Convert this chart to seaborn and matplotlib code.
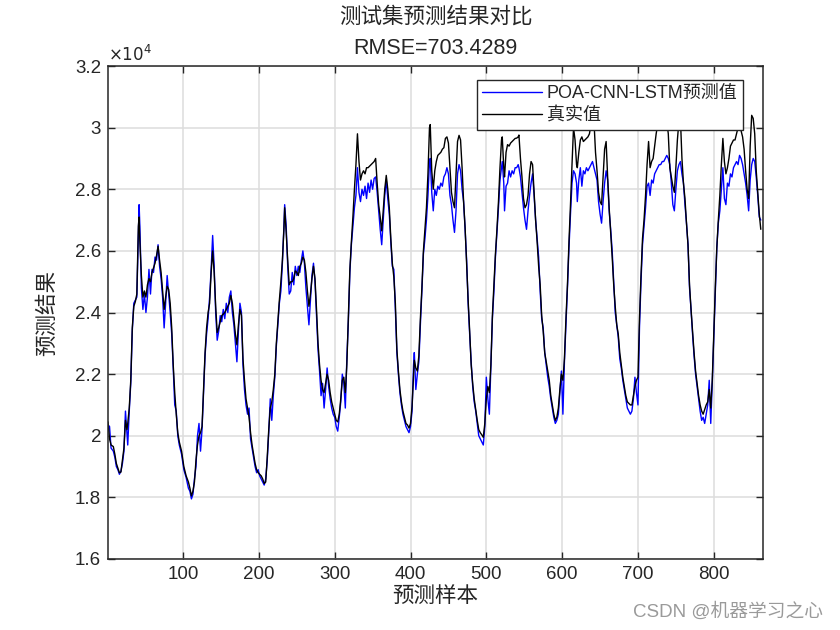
import numpy as np
import pandas as pd
import matplotlib
matplotlib.use('Agg')
import matplotlib.pyplot as plt
import seaborn as sns
from matplotlib.ticker import FuncFormatter, MultipleLocator

# sample index (test set) and values
sample_idx = [
    1, 3, 5, 8, 10, 12, 14, 16, 18, 20, 22, 24, 26, 27, 29, 31, 33, 35, 37, 39,
    41, 42, 43, 45, 47, 49, 51, 53, 55, 57, 59, 61, 63, 65, 67, 69, 71, 73, 75, 77,
    79, 81, 83, 85, 87, 89, 91, 93, 95, 98, 101, 104, 107, 109, 111, 113, 115, 117, 119, 121,
    123, 125, 127, 129, 131, 133, 135, 137, 139, 141, 143, 145, 147, 149, 151, 153, 155, 157, 159, 161,
    163, 165, 167, 169, 171, 173, 175, 177, 179, 181, 183, 185, 187, 189, 191, 193, 195, 197, 199, 201,
    203, 205, 207, 209, 211, 213, 215, 217, 219, 221, 223, 225, 227, 229, 231, 233, 234, 236, 238, 240,
    242, 244, 246, 248, 250, 252, 254, 256, 258, 260, 262, 264, 266, 268, 270, 272, 274, 276, 278, 280,
    282, 284, 286, 288, 290, 292, 294, 296, 298, 300, 302, 304, 306, 308, 310, 312, 314, 316, 318, 320,
    322, 324, 326, 328, 330, 332, 334, 336, 338, 340, 342, 344, 346, 348, 350, 352, 354, 356, 358, 360,
    362, 364, 366, 368, 370, 372, 374, 376, 378, 380, 382, 384, 386, 388, 390, 392, 394, 396, 398, 400,
    402, 404, 405, 407, 409, 411, 413, 415, 417, 419, 421, 423, 425, 426, 428, 430, 432, 434, 436, 438,
    440, 442, 444, 446, 448, 450, 452, 454, 456, 458, 460, 462, 464, 466, 468, 470, 472, 474, 476, 478,
    480, 482, 484, 486, 488, 490, 492, 494, 496, 498, 500, 502, 504, 506, 508, 510, 512, 514, 516, 518,
    520, 521, 523, 524, 526, 528, 530, 532, 534, 536, 538, 540, 542, 543, 545, 547, 549, 551, 553, 555,
    557, 559, 561, 563, 565, 567, 569, 571, 573, 575, 577, 579, 581, 583, 585, 587, 589, 591, 593, 595,
    597, 599, 601, 603, 605, 607, 609, 611, 613, 615, 617, 619, 620, 622, 624, 626, 628, 630, 632, 634,
    636, 638, 640, 642, 644, 646, 648, 650, 652, 654, 656, 658, 660, 662, 664, 666, 668, 670, 672, 674,
    676, 678, 680, 682, 684, 686, 688, 690, 692, 694, 696, 698, 700, 702, 704, 706, 708, 710, 712, 714,
    716, 718, 720, 722, 724, 726, 728, 730, 732, 734, 736, 738, 740, 742, 744, 746, 748, 750, 752, 754,
    756, 758, 760, 762, 764, 766, 768, 770, 772, 774, 776, 778, 780, 782, 784, 786, 788, 790, 792, 794,
    796, 798, 800, 802, 804, 806, 808, 810, 812, 814, 816, 818, 820, 822, 824, 826, 828, 830, 832, 834,
    836, 838, 840, 842, 844, 846, 848, 850, 852, 854, 856, 858, 860, 862,
]

true_vals = [
    20450, 19900, 19700, 19650, 19400, 19100, 18950, 18800, 18820, 19200, 19600, 20500, 20200, 20400, 20900, 21800, 23500, 24200, 24350, 24600,
    26800, 27100, 26300, 25200, 24500, 24700, 24500, 24900, 25100, 25000, 25300, 25450, 25600, 25850, 26150, 25700, 25300, 24700, 24100, 24500,
    24850, 24750, 24300, 23500, 22300, 21400, 20700, 20100, 19800, 19500, 19000, 18700, 18500, 18300, 18050, 18200, 18500, 19200, 19700, 20000,
    20100, 20300, 21500, 22700, 23500, 24000, 24300, 25300, 26000, 25300, 24200, 23350, 23500, 23700, 23900, 23950, 24000, 24100, 24200, 24300,
    24550, 24300, 23800, 23300, 22950, 23600, 24100, 23900, 22500, 21800, 21200, 20900, 20600, 20100, 19700, 19400, 19100, 18900, 18800, 18750,
    18700, 18600, 18450, 18500, 19300, 20200, 20900, 21100, 21500, 22000, 23000, 23700, 24400, 25000, 25700, 26700, 27400, 26600, 25700, 24900,
    25000, 25000, 25100, 25350, 25300, 25200, 25500, 25600, 25800, 25700, 25300, 24700, 24200, 24600, 25100, 25500, 25100, 24100, 23000, 22300,
    21800, 21500, 21400, 21700, 22000, 21800, 21400, 21100, 20900, 20700, 20500, 20450, 20700, 21200, 21800, 21900, 21400, 22300, 23800, 25400,
    26300, 27100, 28000, 28800, 29800, 28900, 28300, 28500, 28600, 28500, 28700, 28700, 28750, 28800, 28850, 28900, 29000, 28200, 27500, 27100,
    26650, 27300, 28000, 28450, 28000, 27400, 26400, 25600, 25150, 24300, 22800, 22100, 21500, 21100, 20800, 20600, 20400, 20350, 20250, 20400,
    20950, 22000, 22450, 22200, 22100, 22600, 23800, 24800, 26000, 26700, 27400, 28500, 30000, 30100, 28600, 28000, 28600, 28900, 29100, 29150,
    29200, 29300, 29350, 29650, 29700, 29500, 28700, 27900, 27600, 27400, 28500, 29550, 29750, 29600, 28700, 27600, 26750, 25600, 24400, 23400,
    22300, 21700, 21200, 20850, 20500, 20200, 20100, 20030, 19950, 20400, 21200, 21600, 21400, 22300, 23900, 24900, 25900, 26700, 27600, 28700,
    29600, 29700, 28700, 28400, 29200, 29450, 29400, 29500, 29550, 29600, 29650, 29660, 29700, 29760, 29000, 28400, 27700, 27400, 27500, 27800,
    28500, 28900, 28800, 27900, 27000, 26300, 25500, 24900, 23900, 23400, 22700, 22400, 22100, 21800, 21300, 21000, 20700, 20500, 20600, 20900,
    21500, 22000, 21800, 22500, 23800, 24900, 26300, 27500, 28800, 30000, 29600, 28800, 28700, 29200, 29600, 29700, 29550, 29600, 29650, 29700,
    29800, 30100, 30300, 30200, 29200, 28600, 27900, 27600, 27500, 28400, 29300, 29550, 28400, 27400, 26600, 25800, 24900, 24200, 23600, 23300,
    22700, 22300, 21900, 21600, 21300, 21100, 21050, 21000, 21000, 21300, 21600, 21800, 21900, 23800, 25200, 26400, 27000, 27800, 28800, 29550,
    28700, 28900, 29000, 29400, 29800, 30100, 30300, 30200, 30100, 30000, 30100, 30200, 29800, 28700, 28400, 28100, 27900, 28700, 29600, 30200,
    30300, 29000, 28200, 27700, 26900, 26200, 24900, 24100, 23400, 22700, 22100, 21700, 21300, 21000, 20800, 20700, 20850, 21000, 21100, 21500,
    20900, 21800, 23300, 24800, 26100, 27000, 27800, 28800, 29650, 28900, 28500, 28700, 29000, 29400, 29500, 29600, 29600, 29800, 30000, 30000,
    29900, 29700, 29300, 28600, 28000, 27700, 29400, 30400, 30300, 29800, 28600, 27900, 27200, 26700,
]

pred_vals = [
    20350, 20300, 19600, 19500, 19300, 19000, 18900, 18750, 18850, 19100, 19500, 20800, 20100, 19700, 20800, 21700, 23400, 24300, 24400, 24500,
    26500, 27500, 26800, 24800, 24100, 24600, 24000, 24500, 25400, 24600, 25400, 25300, 25800, 25700, 26200, 25500, 25100, 24500, 23500, 24300,
    25200, 24600, 24000, 23300, 22200, 21000, 20800, 20000, 19700, 19400, 18900, 18650, 18300, 18200, 17950, 18100, 18600, 19000, 20000, 20400,
    19500, 20200, 21400, 22600, 23300, 23800, 24500, 25400, 26500, 25500, 24000, 23100, 23400, 23900, 23700, 24100, 23800, 24300, 24000, 24500,
    24700, 24000, 23600, 23000, 22400, 23400, 24300, 24000, 22300, 21500, 21000, 20700, 20900, 19900, 19600, 19300, 19000, 18800, 18900, 18700,
    18600, 18500, 18400, 18600, 19200, 20100, 21200, 20500, 21300, 21900, 22900, 23600, 24300, 24700, 25600, 26800, 27500, 26800, 25500, 24600,
    24700, 25300, 24900, 25500, 25200, 25500, 25300, 25700, 26000, 25600, 24800, 24200, 23600, 24400, 25200, 25600, 25000, 23900, 22800, 22100,
    21300, 21700, 20900, 21500, 22200, 21600, 21200, 20900, 20700, 20600, 20300, 20150, 20600, 21100, 22000, 21700, 20900, 22500, 23700, 25300,
    26200, 26800, 27400, 27800, 28700, 27900, 27600, 28000, 27800, 28100, 27700, 28200, 27900, 28300, 28000, 28350, 28400, 27900, 27300, 26700,
    26200, 27000, 27800, 28300, 27700, 27200, 26300, 25500, 25400, 24100, 22700, 22000, 21400, 21000, 20700, 20500, 20300, 20200, 20100, 20300,
    20800, 22300, 22700, 21500, 22000, 22400, 23600, 24700, 25900, 26400, 27000, 27800, 28900, 29000, 27900, 27300, 28000, 27800, 28100, 28000,
    28200, 28100, 28400, 28500, 28700, 28500, 27800, 27500, 27000, 26600, 27300, 28500, 28800, 28600, 28000, 27600, 26700, 25700, 24300, 23300,
    22400, 21600, 21100, 20800, 20400, 20000, 19900, 19800, 19700, 20300, 21900, 21200, 20700, 22200, 23800, 24700, 25800, 26600, 27400, 28300,
    28700, 28900, 28200, 27300, 28100, 28200, 28600, 28400, 28600, 28500, 28700, 28700, 28800, 28700, 28400, 27900, 27400, 27000, 26700, 27300,
    27800, 28200, 28500, 27800, 27000, 26400, 25800, 24700, 23800, 23500, 22700, 22300, 21900, 21600, 21200, 20900, 20600, 20400, 20500, 20700,
    21400, 22100, 20700, 22400, 23600, 24800, 26100, 27200, 28200, 28600, 28500, 28200, 27600, 28300, 28700, 28100, 28600, 28500, 28700, 28600,
    28700, 28800, 28900, 28700, 28500, 28300, 27600, 27200, 26900, 27600, 28200, 28600, 28300, 27300, 26700, 26000, 25000, 24000, 23600, 23200,
    22500, 22200, 21800, 21500, 21200, 20900, 20800, 20700, 20800, 21200, 21900, 21400, 21000, 23500, 25000, 26200, 26800, 27400, 28100, 28200,
    27800, 28300, 28200, 28500, 28600, 28700, 28800, 28800, 28900, 28900, 29000, 29100, 29000, 28800, 28200, 27500, 27300, 28000, 28600, 28800,
    28900, 28500, 28200, 27500, 26900, 26200, 24800, 24100, 23300, 22600, 22000, 21600, 21200, 20800, 20500, 20600, 20400, 20700, 21000, 21800,
    20400, 21700, 23200, 24700, 26100, 26900, 27300, 28000, 28700, 27700, 27500, 28200, 28100, 28500, 28400, 28700, 28800, 28900, 28800, 29100,
    29000, 28800, 28500, 28200, 27800, 27300, 28300, 28800, 29000, 28900, 28400, 27800, 27100, 27000,
]

rmse_text = 'RMSE=703.4289'
cjk = ['Liberation Sans', 'Noto Sans CJK SC', 'DejaVu Sans']

sns.set_style('ticks')
plt.rcParams['font.family'] = cjk
plt.rcParams['axes.unicode_minus'] = False

df = pd.DataFrame({'sample': sample_idx, 'true': true_vals, 'pred': pred_vals})

fig = plt.figure(figsize=(8.4, 6.3), dpi=100)
ax = fig.add_axes([0.1286, 0.1127, 0.7798, 0.7825])

sns.lineplot(data=df, x='sample', y='pred', color='#0000ff', lw=1.0,
             label='POA-CNN-LSTM预测值', ax=ax, estimator=None)
sns.lineplot(data=df, x='sample', y='true', color='black', lw=1.0,
             label='真实值', ax=ax, estimator=None)

ax.set_xlim(1, 865)
ax.set_ylim(16000, 32000)
ax.yaxis.set_major_locator(MultipleLocator(2000))
ax.yaxis.set_major_formatter(FuncFormatter(lambda v, p: '%g' % round(v / 1e4, 2)))
ax.set_xticks([100, 200, 300, 400, 500, 600, 700, 800])

ax.grid(True, color='#dddddd', lw=1.1)
ax.set_axisbelow(True)
for s in ax.spines.values():
    s.set_color('#262626')
    s.set_linewidth(1.1)
ax.tick_params(direction='in', length=5, width=1, colors='#262626',
               top=True, right=True, labelsize=13.5, pad=5)

ax.text(0.0, 1.005, r'$\times10^{4}$', transform=ax.transAxes,
        ha='left', va='bottom', fontsize=12, color='#262626')

ax.set_xlabel('预测样本', fontsize=15.5, color='#262626', labelpad=2)
ax.set_ylabel('预测结果', fontsize=15.5, color='#262626', labelpad=12)
ax.set_title('测试集预测结果对比\n' + rmse_text, fontsize=15.5, color='#262626',
             pad=9, linespacing=1.6)

leg = ax.legend(loc='upper right', bbox_to_anchor=(0.969, 0.972), fontsize=13,
                frameon=True, fancybox=False, framealpha=1, edgecolor='#262626',
                borderpad=0.3, handlelength=3.3, handletextpad=0.25, labelspacing=0.3,
                borderaxespad=0)
leg.get_frame().set_linewidth(1.0)

fig.text(0.98, 0.015, 'CSDN @机器学习之心', ha='right', va='bottom',
         fontsize=13.5, color='#9a9a9a')

fig.savefig('out.png', dpi=100)
